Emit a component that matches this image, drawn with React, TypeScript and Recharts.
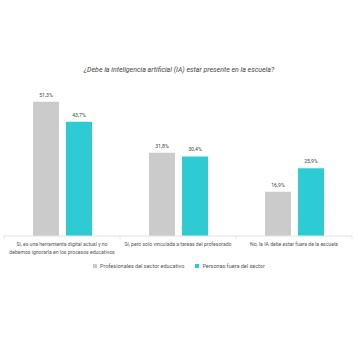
import React from "react"
import { BarChart, Bar, XAxis, YAxis, LabelList } from "recharts"

const categories = [
  "Sí, es una herramienta digital actual y no\ndebemos ignorarla en los procesos educativos",
  "Sí, pero solo vinculada a tareas del profesorado",
  "No, la IA debe estar fuera de la escuela",
]
const profesionales = [51.3, 31.8, 16.9]
const fueraSector = [43.7, 30.4, 25.9]
const seriesNames = ["Profesionales del sector educativo", "Personas fuera del sector"]
const title = "¿Debe la inteligencia artificial (IA) estar presente en la escuela?"

const GRAY = "#cbcbcb"
const TEAL = "#2ecbd5"
const FONT = "Roboto, 'Noto Sans', sans-serif"

const data = categories.map((name, i) => ({
  name,
  prof: profesionales[i],
  fuera: fueraSector[i],
}))

const fmt = (v: unknown) => `${String(v).replace(".", ",")}%`

function CategoryTick(props: any) {
  const { x, y, payload, index } = props
  const lines = String(payload.value).split("\n")
  const half = 58
  return (
    <g>
      <line x1={x - half} y1={y - 8} x2={x - half} y2={y - 5} stroke="#e2e2e2" />
      {index === categories.length - 1 && (
        <line x1={x + half} y1={y - 8} x2={x + half} y2={y - 5} stroke="#e2e2e2" />
      )}
      <text x={x} y={y} textAnchor="middle" fontSize={5.1} fill="#555" fontFamily={FONT}>
        {lines.map((l, i) => (
          <tspan key={i} x={x} dy={i === 0 ? 1.5 : 8.5}>
            {l}
          </tspan>
        ))}
      </text>
    </g>
  )
}

function ChartLegend() {
  const colors = [GRAY, TEAL]
  return (
    <div
      style={{
        position: "absolute",
        top: 263,
        left: 0,
        width: 358,
        display: "flex",
        justifyContent: "center",
        gap: 11,
        fontFamily: FONT,
        fontSize: 5.5,
        color: "#555",
      }}
    >
      {seriesNames.map((n, i) => (
        <span key={n} style={{ display: "flex", alignItems: "center" }}>
          <span style={{ display: "inline-block", width: 4, height: 4, background: colors[i], marginRight: 3 }} />
          {n}
        </span>
      ))}
    </div>
  )
}

export default function App() {
  return (
    <div style={{ position: "absolute", left: 0, top: 0, width: 358, height: 338, background: "#fff" }}>
      <div
        style={{
          position: "absolute",
          top: 66,
          left: 0,
          width: 358,
          textAlign: "center",
          fontFamily: FONT,
          fontStyle: "italic",
          fontSize: 7,
          color: "#444",
        }}
      >
        {title}
      </div>
      <BarChart
        width={358}
        height={338}
        data={data}
        margin={{ top: 79, right: 6, bottom: 72, left: 4 }}
        barGap={7}
        barSize={26}
      >
        <XAxis
          dataKey="name"
          axisLine={{ stroke: "#e2e2e2" }}
          tickLine={false}
          interval={0}
          tick={<CategoryTick />}
          height={30}
        />
        <YAxis hide domain={[0, 60]} />
        <Bar dataKey="prof" name={seriesNames[0]} fill={GRAY} isAnimationActive={false}>
          <LabelList dataKey="prof" position="top" formatter={fmt} fontSize={5.2} fill="#444" fontFamily={FONT} offset={5} />
        </Bar>
        <Bar dataKey="fuera" name={seriesNames[1]} fill={TEAL} isAnimationActive={false}>
          <LabelList dataKey="fuera" position="top" formatter={fmt} fontSize={5.2} fill="#444" fontFamily={FONT} offset={5} />
        </Bar>
      </BarChart>
      <ChartLegend />
    </div>
  )
}
